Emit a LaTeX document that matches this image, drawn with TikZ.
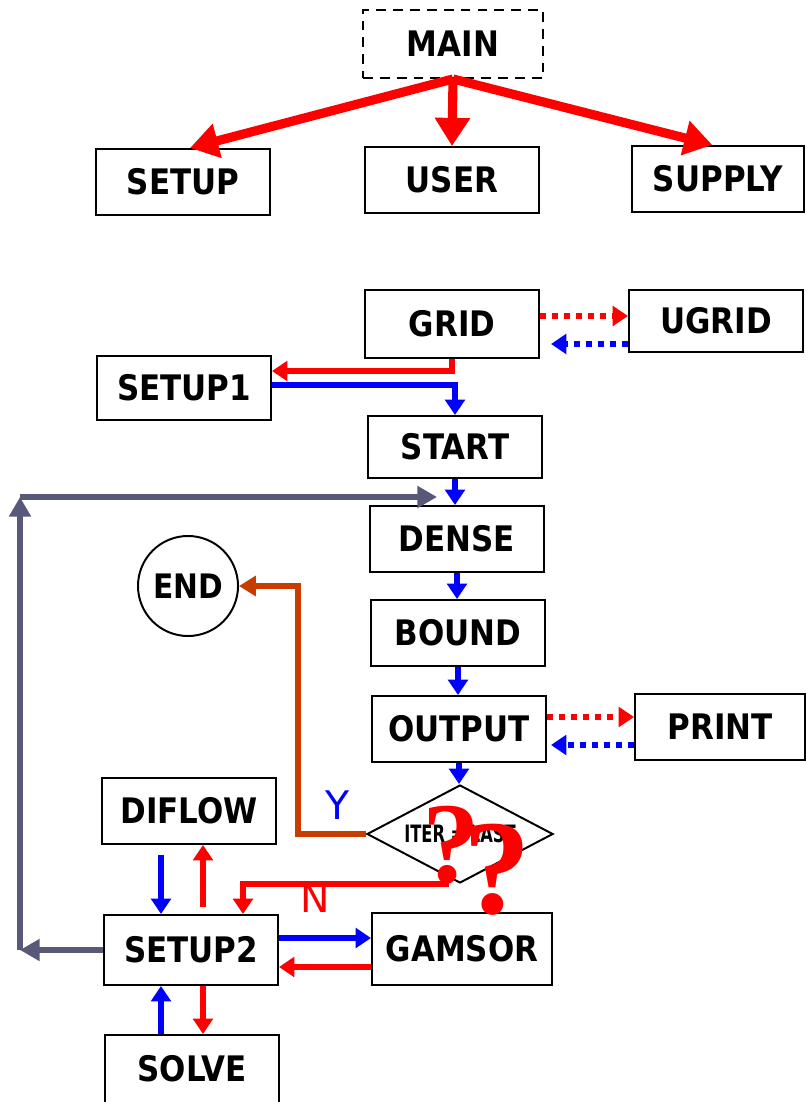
\documentclass[tikz,border=0pt]{standalone}
\usepackage{fontspec}
\usepackage{tikz}
\usetikzlibrary{arrows.meta,positioning,shapes.geometric,calc}
\newfontfamily\boxfont[FakeStretch=0.88]{DejaVu Sans}
\newfontfamily\condfont[FakeStretch=0.68]{DejaVu Sans}
\newfontfamily\labfont{DejaVu Sans}
\newfontfamily\qfont{Liberation Serif}
\definecolor{loopgrey}{RGB}{88,88,120}
\definecolor{yescol}{RGB}{200,60,0}
\definecolor{flowred}{RGB}{255,0,0}
\definecolor{flowblue}{RGB}{0,0,255}
\tikzset{
  box/.style={draw,line width=1.4pt,align=center,inner sep=0pt,
              font=\boxfont\bfseries\fontsize{25}{28}\selectfont,
              minimum width=4.35cm,minimum height=1.65cm},
  mbox/.style={box,dash pattern=on 7pt off 5pt},
  endnode/.style={circle,draw,line width=1.4pt,inner sep=0pt,minimum size=2.5cm,
              font=\boxfont\bfseries\fontsize{24}{26}\selectfont},
  decision/.style={diamond,draw,line width=1.4pt,inner sep=0pt,
              minimum width=4.65cm,minimum height=2.45cm},
  mainarr/.style={-{Triangle[width=24pt,length=20pt]},line width=6.5pt,flowred},
  rarr/.style={-{Triangle[width=14pt,length=11pt]},line width=3.6pt,flowred},
  barr/.style={rarr,flowblue},
  rdots/.style={rarr,dash pattern=on 4.5pt off 4pt},
  bdots/.style={barr,dash pattern=on 4.5pt off 4pt},
  garr/.style={-{Triangle[width=15pt,length=14pt]},line width=3.6pt,loopgrey},
  yarr/.style={-{Triangle[width=14pt,length=12pt]},line width=3.6pt,yescol},
  lab/.style={inner sep=0pt,font=\labfont\fontsize{28}{30}\selectfont},
  qmark/.style={inner sep=0pt,anchor=base,text=flowred,
              font=\qfont\bfseries\fontsize{#1}{#1}\selectfont},
}

\begin{document}
\begin{tikzpicture}[x=0.025cm,y=-0.025cm]
\useasboundingbox (0,0) rectangle (805,1102);

% top level
\node[mbox,minimum width=4.5cm,minimum height=1.7cm] (main) at (453,44) {MAIN};
\node[box] (setup) at (183,182) {SETUP};
\node[box] (user) at (452,180) {USER};
\node[box,minimum width=4.3cm] (supply) at (718,179) {SUPPLY};

\draw[mainarr] (main.south) -- ([xshift=5pt]setup.north);
\draw[mainarr] (main.south) -- (user.north);
\draw[mainarr] (main.south) -- ([xshift=-4pt]supply.north);

% grid and main column
\node[box,minimum height=1.7cm] (grid) at (452,324) {GRID};
\node[box,minimum height=1.55cm] (ugrid) at (716,321) {UGRID};
\node[box,minimum height=1.6cm] (setupone) at (184,388) {SETUP1};
\node[box,minimum height=1.55cm] (start) at (455,447) {START};
\node[box] (dense) at (457,539) {DENSE};
\node[box] (bound) at (458,633) {BOUND};
\node[box] (output) at (459,729) {OUTPUT};
\node[box,minimum width=4.25cm] (print) at (720,727) {PRINT};
\node[decision,label={[font=\condfont\bfseries\fontsize{17}{19}\selectfont]center:ITER = LAST}]
  (iter) at (460,834) {};

\draw[rdots] ($(grid.east)+(0,-8)$) -- ($(grid.east -| ugrid.west)+(0,-8)$);
\draw[bdots] ($(grid.east -| ugrid.west)+(0,20)$) -- ($(grid.east)+(11,20)$);
\draw[rarr] (grid.south) |- ($(setupone.east)+(0,-17)$);
\draw[barr] ($(setupone.east)+(0,-3)$) -| (start.north);

\foreach \a/\b in {start/dense,dense/bound,bound/output,output/iter}
  \draw[barr] (\a.south) -- (\a.south |- \b.north);

\draw[rdots] ($(output.east)+(0,-12)$) -- ($(output.east -| print.west)+(0,-12)$);
\draw[bdots] ($(output.east -| print.west)+(0,16)$) -- ($(output.east)+(4,16)$);

% end branch
\node[endnode] (end) at (188,586) {END};
\coordinate (ybend) at (298,586);
\draw[yarr] (iter.west) -| (ybend) -- (end.east);
\node[lab,text=flowblue] (ylabel) at (338,805) {Y};

% setup2 cluster
\node[box] (diflow) at (189,811) {DIFLOW};
\node[box,minimum height=1.75cm] (setuptwo) at (191,950) {SETUP2};
\node[box,minimum width=4.5cm,minimum height=1.8cm] (gamsor) at (462,949) {GAMSOR};
\node[box,minimum height=1.7cm] (solve) at (192,1069) {SOLVE};

\coordinate (nstart) at (449,884);
\draw[rarr] (nstart) -| ($(setuptwo.north)+(52,0)$);
\node[lab,text=flowred] (nlabel) at (315,898) {N};

\draw[barr] ($(diflow.south)+(-28,10)$) -- ($(setuptwo.north)+(-30,0)$);
\draw[rarr] ($(setuptwo.north)+(12,-7)$) -- ($(diflow.south)+(14,0)$);
\draw[barr] ($(setuptwo.east)+(0,-12)$) -- ($(gamsor.west)+(0,-11)$);
\draw[rarr] ($(gamsor.west)+(0,18)$) -- ($(setuptwo.east)+(0,17)$);
\draw[barr] ($(solve.north)+(-31,0)$) -- ($(setuptwo.south)+(-30,0)$);
\draw[rarr] ($(setuptwo.south)+(12,0)$) -- ($(solve.north)+(11,0)$);

% loop back to DENSE
\coordinate (loopL) at (20,950);
\coordinate (loopT) at (20,497);
\coordinate (loopR) at (437,497);
\draw[garr] (setuptwo.west) -- (loopL);
\draw[garr] (loopL) -- (loopT);
\draw[garr] (loopT) -- (loopR);

% question marks
\node[qmark=82] (qone) at (451,882) {?};
\node[qmark=96] (qtwo) at (497,913) {?};

\end{tikzpicture}
\end{document}
